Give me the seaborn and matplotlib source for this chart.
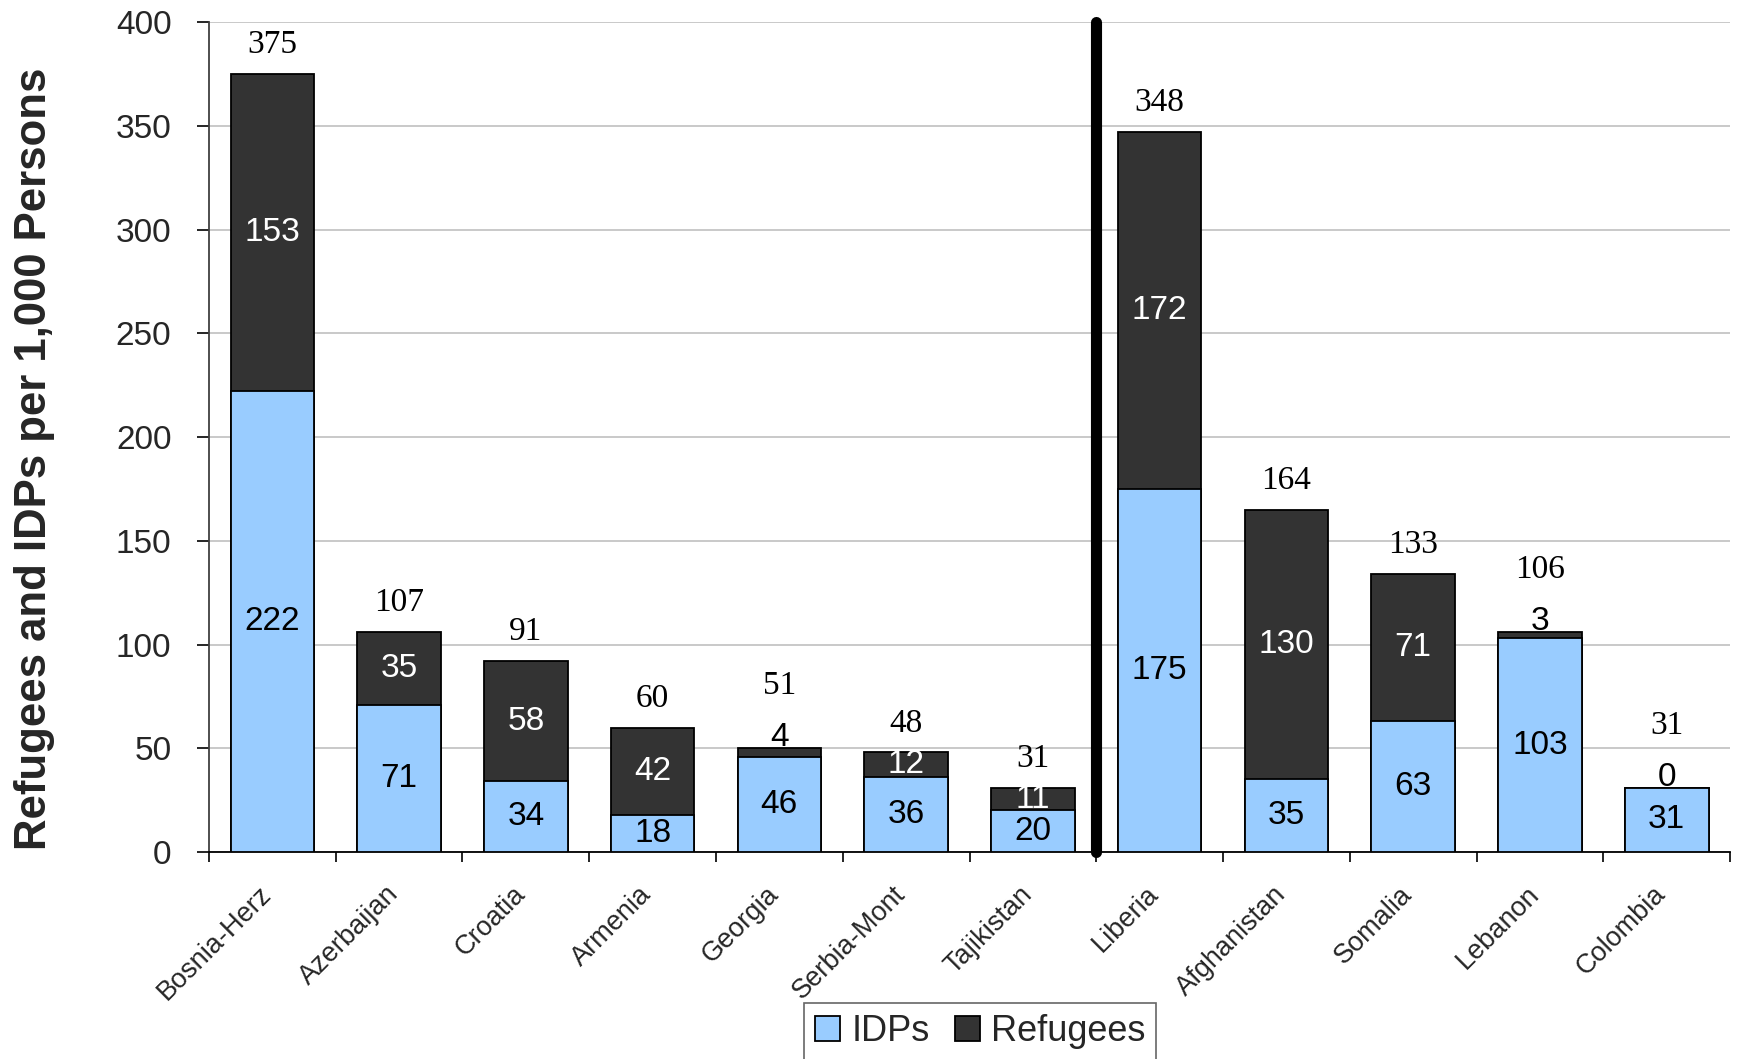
import matplotlib
matplotlib.use("Agg")
import matplotlib.pyplot as plt
import matplotlib.transforms as mtransforms
import numpy as np
import pandas as pd
import seaborn as sns
from matplotlib.patches import Patch

countries = ["Bosnia-Herz", "Azerbaijan", "Croatia", "Armenia", "Georgia", "Serbia-Mont",
             "Tajikistan", "Liberia", "Afghanistan", "Somalia", "Lebanon", "Colombia"]
idps = [222, 71, 34, 18, 46, 36, 20, 175, 35, 63, 103, 31]
refugees = [153, 35, 58, 42, 4, 12, 11, 172, 130, 71, 3, 0]
totals = [375, 107, 91, 60, 51, 48, 31, 348, 164, 133, 106, 31]
yticks = [0, 50, 100, 150, 200, 250, 300, 350, 400]
divider_after = 6  # index of last country before the divider line

IDP_COLOR = "#99CCFF"
REF_COLOR = "#333333"

sns.set_theme(style="white")
plt.rcParams["font.family"] = ["Liberation Sans", "DejaVu Sans"]

fig = plt.figure(figsize=(17.37, 10.59), dpi=100)
ax = fig.add_axes([0.1203, 0.1955, 0.8757, 0.7835])

df = pd.DataFrame({"country": countries, "idps": idps, "refugees": refugees})
df["stack"] = df["idps"] + df["refugees"]

sns.barplot(data=df, x="country", y="stack", color=REF_COLOR, saturation=1, width=0.66,
            edgecolor="black", linewidth=1.3, ax=ax, zorder=3)
sns.barplot(data=df, x="country", y="idps", color=IDP_COLOR, saturation=1, width=0.66,
            edgecolor="black", linewidth=1.3, ax=ax, zorder=3)

ax.set_xlim(-0.5, len(countries) - 0.5)
ax.set_ylim(0, 400)
ax.set_yticks(yticks)
ax.set_yticklabels([str(v) for v in yticks])
ax.yaxis.grid(True, color="#C0C0C0", linewidth=1.2)
ax.set_axisbelow(True)
ax.set_xlabel("")
ax.set_ylabel("")

for s in ["top", "right"]:
    ax.spines[s].set_visible(False)
ax.spines["left"].set_color("#404040")
ax.spines["left"].set_linewidth(1.3)
ax.spines["bottom"].set_color("black")
ax.spines["bottom"].set_linewidth(1.3)

ax.tick_params(axis="y", direction="out", length=9, width=1.2, color="black",
               labelsize=24, pad=18, left=True)
# x ticks at category boundaries
ax.set_xticks(range(len(countries)))
ax.set_xticklabels(countries, rotation=45, ha="right", rotation_mode="anchor", fontsize=19.5)
ax.tick_params(axis="x", which="major", length=0, pad=21)
shift = mtransforms.ScaledTranslation(-10 / 72, 0, fig.dpi_scale_trans)
for lab in ax.get_xticklabels():
    lab.set_transform(lab.get_transform() + shift)
ax.set_xticks(np.arange(-0.5, len(countries), 1.0), minor=True)
ax.tick_params(axis="x", which="minor", direction="out", length=7, width=1.2,
               color="black", bottom=True)

# segment and total labels
for i, (a, b, t) in enumerate(zip(idps, refugees, totals)):
    ax.text(i, a / 2, str(a), ha="center", va="center", fontsize=24, color="black", zorder=5)
    if b >= 8:
        ax.text(i, a + b / 2, str(b), ha="center", va="center", fontsize=24,
                color="white", zorder=5)
        ty = a + b + 14
    else:
        ax.text(i, a + b + 5, str(b), ha="center", va="center", fontsize=24,
                color="black", zorder=5)
        ty = a + b + 30
    ax.text(i, ty, str(t), ha="center", va="center", fontsize=24,
            family=["Liberation Serif", "DejaVu Serif"], color="black", zorder=5)

# thick divider
ax.plot([divider_after + 0.5, divider_after + 0.5], [0, 400], color="black", lw=8,
        solid_capstyle="round", clip_on=False, zorder=6)

# y label
fig.text(0.02, 1 - 459 / 1059, "Refugees and IDPs per 1,000 Persons", rotation=90,
         ha="center", va="center", fontsize=31.5, fontweight="bold",
         family=["Liberation Sans Narrow", "Liberation Sans", "DejaVu Sans"])

# legend
handles = [Patch(facecolor=IDP_COLOR, edgecolor="black", linewidth=1.3),
           Patch(facecolor=REF_COLOR, edgecolor="black", linewidth=1.3)]
leg = fig.legend(handles, ["IDPs", "Refugees"], ncol=2, loc="upper center",
                 bbox_to_anchor=(0.5643, 1 - 1003 / 1059), bbox_transform=fig.transFigure,
                 fontsize=26, handlelength=0.7, handleheight=0.7, handletextpad=0.3,
                 columnspacing=0.7, fancybox=False, frameon=True, borderpad=0.3,
                 borderaxespad=0)
leg.get_frame().set_edgecolor("#404040")
leg.get_frame().set_linewidth(1.2)

fig.savefig("out.png", dpi=100)
